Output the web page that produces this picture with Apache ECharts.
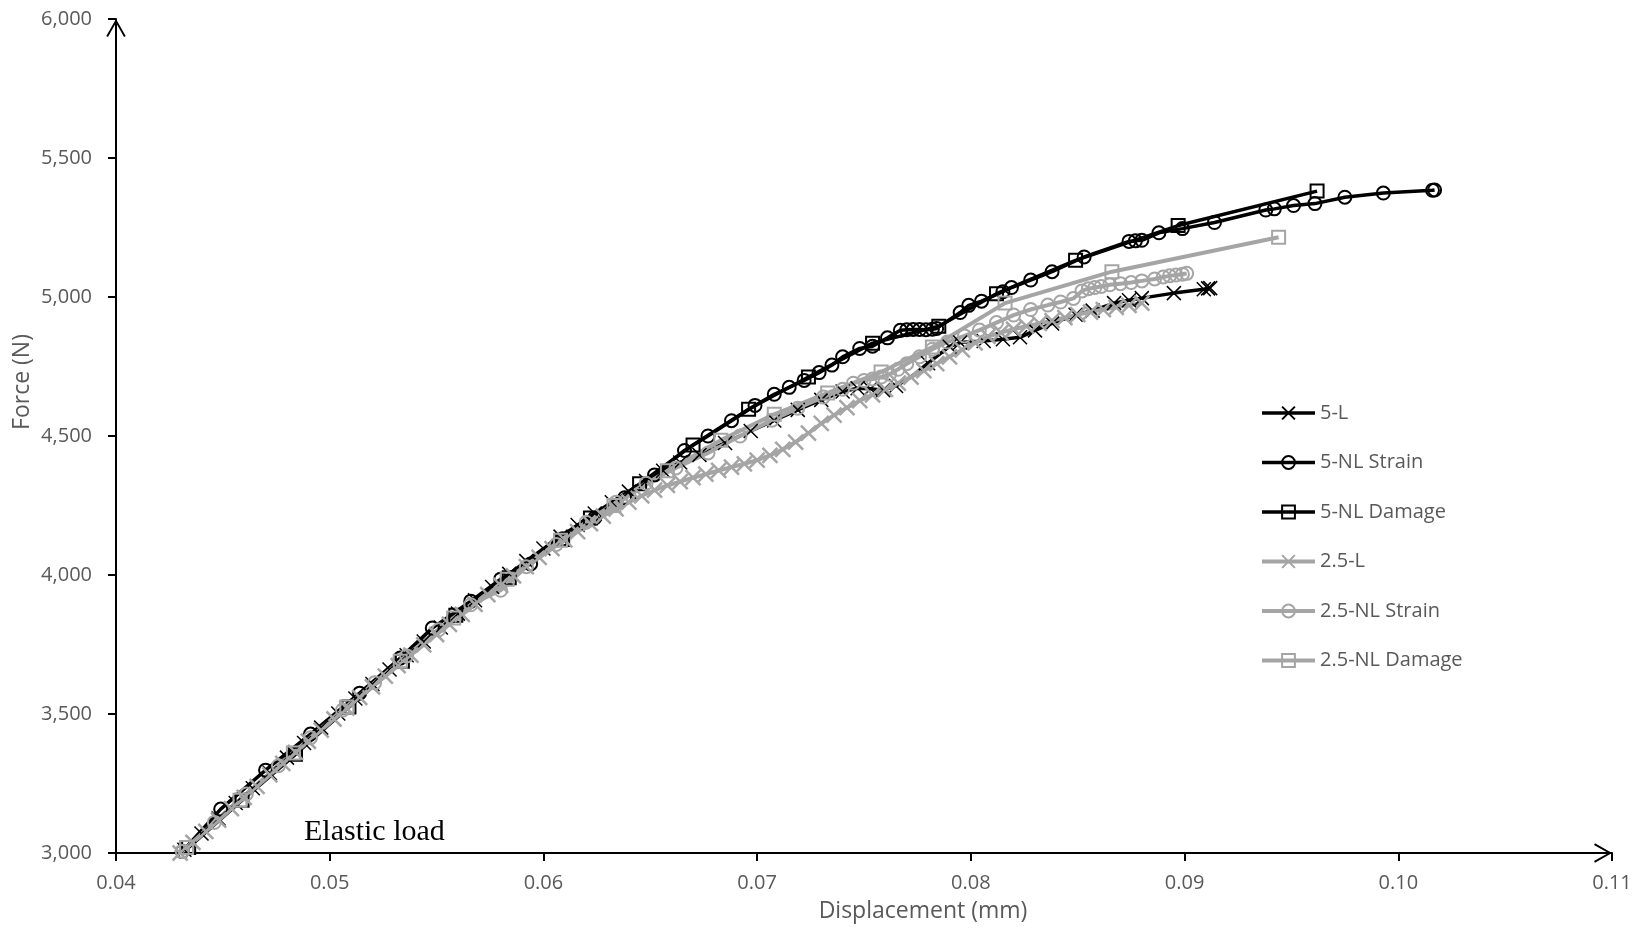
<!DOCTYPE html>
<html>
<head>
<meta charset="utf-8">
<script src="https://cdn.jsdelivr.net/npm/echarts@6/dist/echarts.min.js"></script>
<style>
  html, body { margin: 0; padding: 0; background: #fff; }
  #chart { width: 1644px; height: 931px; }
</style>
</head>
<body>
<div id="chart"></div>
<script>
// Force–displacement curves, displacement in mm, force in N
const seriesNames = ['5-L', '5-NL Strain', '5-NL Damage', '2.5-L', '2.5-NL Strain', '2.5-NL Damage'];

const disp5L = [0.0432,0.0440,0.0448,0.0456,0.0464,0.0472,0.0480,0.0488,0.0496,0.0504,0.0512,0.0520,0.0528,0.0536,0.0544,0.0552,0.0560,0.0568,0.0576,0.0584,0.0592,0.0600,0.0608,0.0616,0.0624,0.0632,0.0640,0.0648,0.0656,0.0664,0.0673,0.0685,0.0697,0.0708,0.0719,0.0730,0.0740,0.0747,0.0753,0.0759,0.0765,0.0772,0.0780,0.0790,0.0795,0.0806,0.0815,0.0823,0.0830,0.0838,0.0849,0.0857,0.0867,0.0874,0.0880,0.0895,0.0909,0.0911,0.0912];
const force5L = [3012,3070,3124,3180,3233,3288,3343,3396,3451,3502,3556,3608,3660,3711,3761,3811,3861,3909,3957,4004,4050,4095,4138,4180,4221,4262,4300,4338,4375,4405,4432,4475,4518,4556,4594,4630,4660,4672,4670,4665,4680,4712,4762,4822,4836,4842,4848,4855,4880,4905,4936,4951,4978,4988,4996,5014,5028,5031,5032];

const disp5NLStrain = [0.0431,0.0449,0.0470,0.0491,0.0514,0.0533,0.0548,0.0566,0.0580,0.0594,0.0609,0.0624,0.0638,0.0652,0.0666,0.0677,0.0688,0.0699,0.0708,0.0715,0.0722,0.0729,0.0735,0.0740,0.0748,0.0754,0.0761,0.0767,0.0770,0.0773,0.0776,0.0779,0.0782,0.0784,0.0795,0.0799,0.0805,0.0815,0.0819,0.0828,0.0838,0.0853,0.0874,0.0877,0.0880,0.0888,0.0899,0.0914,0.0938,0.0942,0.0951,0.0961,0.0975,0.0993,0.1016,0.1017];
const force5NLStrain = [3005,3158,3298,3428,3575,3701,3809,3906,3985,4040,4130,4205,4278,4360,4448,4500,4555,4610,4650,4675,4700,4728,4755,4785,4815,4823,4853,4880,4882,4883,4883,4882,4884,4887,4944,4970,4985,5019,5034,5061,5091,5144,5200,5202,5204,5231,5246,5268,5313,5317,5329,5336,5359,5374,5384,5385];

const disp5NLDamage = [0.0434,0.0459,0.0484,0.0509,0.0534,0.0559,0.0584,0.0609,0.0622,0.0645,0.0670,0.0696,0.0724,0.0754,0.0785,0.0812,0.0849,0.0897,0.0962];
const force5NLDamage = [3020,3190,3355,3525,3690,3855,3990,4128,4205,4328,4468,4596,4712,4834,4895,5012,5132,5257,5381];

const disp25L = [0.0430,0.0436,0.0442,0.0448,0.0454,0.0460,0.0466,0.0472,0.0478,0.0484,0.0490,0.0496,0.0502,0.0508,0.0514,0.0520,0.0526,0.0532,0.0538,0.0544,0.0550,0.0556,0.0562,0.0568,0.0574,0.0580,0.0586,0.0592,0.0598,0.0604,0.0610,0.0616,0.0622,0.0628,0.0634,0.0640,0.0646,0.0652,0.0658,0.0664,0.0670,0.0676,0.0682,0.0688,0.0694,0.0700,0.0706,0.0712,0.0718,0.0724,0.0730,0.0736,0.0742,0.0748,0.0754,0.0760,0.0766,0.0772,0.0778,0.0784,0.0790,0.0796,0.0802,0.0808,0.0814,0.0820,0.0826,0.0832,0.0838,0.0844,0.0850,0.0856,0.0862,0.0868,0.0874,0.0880];
const force25L = [3000,3038,3078,3118,3160,3200,3240,3281,3322,3362,3402,3442,3482,3521,3560,3598,3636,3674,3712,3749,3786,3822,3858,3894,3929,3963,3997,4030,4063,4095,4126,4156,4185,4212,4238,4262,4285,4305,4322,4336,4350,4363,4376,4388,4400,4413,4430,4452,4478,4510,4545,4575,4602,4627,4648,4668,4690,4712,4735,4760,4785,4810,4835,4858,4872,4884,4895,4905,4915,4926,4937,4946,4955,4963,4970,4978];

const disp25NLStrain = [0.0431,0.0446,0.0461,0.0476,0.0491,0.0506,0.0521,0.0536,0.0551,0.0566,0.0580,0.0592,0.0606,0.0620,0.0634,0.0648,0.0662,0.0677,0.0692,0.0707,0.0719,0.0731,0.0740,0.0745,0.0750,0.0754,0.0758,0.0762,0.0766,0.0770,0.0776,0.0782,0.0789,0.0797,0.0804,0.0812,0.0820,0.0828,0.0836,0.0842,0.0848,0.0852,0.0855,0.0858,0.0861,0.0865,0.0870,0.0875,0.0880,0.0886,0.0890,0.0893,0.0896,0.0899,0.0901];
const force25NLStrain = [3005,3110,3212,3314,3415,3514,3612,3709,3803,3893,3945,4030,4110,4190,4262,4330,4385,4439,4500,4557,4600,4640,4668,4690,4700,4705,4712,4722,4740,4760,4785,4812,4838,4860,4881,4908,4935,4955,4971,4982,4995,5022,5030,5034,5038,5044,5048,5052,5058,5065,5072,5076,5079,5082,5085];

const disp25NLDamage = [0.0433,0.0458,0.0483,0.0508,0.0533,0.0558,0.0583,0.0608,0.0633,0.0658,0.0683,0.0708,0.0733,0.0758,0.0782,0.0816,0.0866,0.0944];
const force25NLDamage = [3020,3190,3360,3525,3690,3845,3985,4125,4250,4375,4485,4578,4655,4730,4820,4978,5091,5215];

// Axis ranges and tick steps
const xTicks = { min: 0.04, max: 0.11, step: 0.01 };
const yTicks = { min: 3000, max: 6000, step: 500 };

const zip = (xs, ys) => xs.map((x, i) => [x, ys[i]]);

const BLACK = '#000000';
const GREY = '#A5A5A5';
const TEXT = '#595959';
const BLACK_W = 3.5;
const GREY_W = 4;
const CROSS = 'path://M0,0L10,10M10,0L0,10';
// open chevron used as the arrow head on both axes
const CHEVRON = 'path://M10,0L20,17.6L18.3,18.6L10,3.8L1.7,18.6L0,17.6Z';

function lineSeries(name, xs, ys, color, width, symbol, size, border) {
  return {
    name: name,
    type: 'line',
    data: zip(xs, ys),
    showAllSymbol: true,
    symbol: symbol,
    symbolSize: size,
    lineStyle: { color: color, width: width },
    itemStyle: { color: 'rgba(0,0,0,0)', borderColor: color, borderWidth: border },
    emphasis: { disabled: true },
    z: 2
  };
}

function legendItem(name, color, width) {
  return { name: name, lineStyle: { color: color, width: width } };
}

const chart = echarts.init(document.getElementById('chart'), null, { renderer: 'canvas' });

chart.setOption({
  animation: false,
  backgroundColor: '#ffffff',
  textStyle: { fontFamily: 'Open Sans' },
  grid: { left: 116, right: 32, top: 19, bottom: 78, outerBoundsMode: 'none' },
  legend: {
    orient: 'vertical',
    left: 1255,
    top: 398,
    itemWidth: 53,
    itemHeight: 16,
    itemGap: 29.5,
    selectedMode: false,
    textStyle: { color: TEXT, fontSize: 20, fontFamily: 'Open Sans', lineHeight: 20 },
    data: [
      legendItem(seriesNames[0], BLACK, BLACK_W),
      legendItem(seriesNames[1], BLACK, BLACK_W),
      legendItem(seriesNames[2], BLACK, BLACK_W),
      legendItem(seriesNames[3], GREY, GREY_W),
      legendItem(seriesNames[4], GREY, GREY_W),
      legendItem(seriesNames[5], GREY, GREY_W)
    ]
  },
  xAxis: {
    type: 'value',
    min: xTicks.min,
    max: xTicks.max,
    interval: xTicks.step,
    splitLine: { show: false },
    axisLine: {
      lineStyle: { color: BLACK, width: 2 },
      symbol: ['none', CHEVRON],
      symbolSize: [20, 18],
      symbolOffset: [0, -9]
    },
    axisTick: { show: true, inside: false, length: 8, lineStyle: { color: BLACK, width: 2 } },
    axisLabel: {
      color: TEXT, fontSize: 20, margin: 20,
      showMinLabel: true, showMaxLabel: true,
      formatter: v => v.toFixed(2)
    }
  },
  yAxis: {
    type: 'value',
    min: yTicks.min,
    max: yTicks.max,
    interval: yTicks.step,
    splitLine: { show: false },
    axisLine: {
      lineStyle: { color: BLACK, width: 2 },
      symbol: ['none', CHEVRON],
      symbolSize: [20, 18],
      symbolOffset: [0, -9]
    },
    axisTick: { show: true, inside: false, length: 8, lineStyle: { color: BLACK, width: 2 } },
    axisLabel: {
      color: TEXT, fontSize: 20, margin: 24,
      showMinLabel: true, showMaxLabel: true,
      formatter: v => v.toLocaleString('en-US')
    }
  },
  graphic: [
    {
      type: 'text', x: 923, y: 911,
      style: { text: 'Displacement (mm)', fill: TEXT, font: '23px "Open Sans"', textAlign: 'center', textVerticalAlign: 'middle' }
    },
    {
      type: 'text', x: 22, y: 382, rotation: Math.PI / 2,
      style: { text: 'Force (N)', fill: TEXT, font: '23px "Open Sans"', textAlign: 'center', textVerticalAlign: 'middle' }
    },
    {
      type: 'text', x: 304, y: 832,
      style: { text: 'Elastic load', fill: BLACK, font: '30px "Liberation Serif"', textAlign: 'left', textVerticalAlign: 'middle' }
    }
  ],
  series: [
    lineSeries(seriesNames[0], disp5L, force5L, BLACK, BLACK_W, CROSS, 14, 1.5),
    lineSeries(seriesNames[1], disp5NLStrain, force5NLStrain, BLACK, BLACK_W, 'circle', 13, 2),
    lineSeries(seriesNames[2], disp5NLDamage, force5NLDamage, BLACK, BLACK_W, 'rect', 13, 2),
    lineSeries(seriesNames[3], disp25L, force25L, GREY, GREY_W, CROSS, 15, 2.5),
    lineSeries(seriesNames[4], disp25NLStrain, force25NLStrain, GREY, GREY_W, 'circle', 13, 2),
    lineSeries(seriesNames[5], disp25NLDamage, force25NLDamage, GREY, GREY_W, 'rect', 13, 2)
  ]
});
</script>
</body>
</html>
